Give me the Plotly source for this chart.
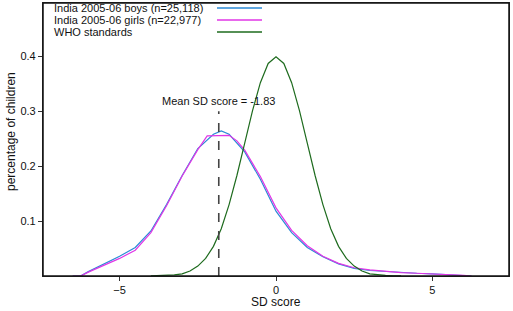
import plotly.graph_objects as go

# ---- data ----
boys_x = [-6.5, -6.25, -6.0, -5.5, -5.0, -4.5, -4.0, -3.5, -3.0, -2.5, -2.0, -1.75, -1.5, -1.0, -0.5,
          0.0, 0.5, 1.0, 1.5, 2.0, 2.5, 3.0, 3.5, 4.0, 4.5, 5.0, 5.5, 6.0, 6.25]
boys_y = [0.0, 0.0, 0.008, 0.022, 0.036, 0.052, 0.082, 0.130, 0.183, 0.232, 0.258, 0.264, 0.258, 0.226, 0.176,
          0.118, 0.079, 0.052, 0.035, 0.022, 0.014, 0.010, 0.008, 0.006, 0.005, 0.004, 0.002, 0.001, 0.0]

girls_x = [-6.5, -6.25, -6.0, -5.5, -5.0, -4.5, -4.0, -3.5, -3.0, -2.5, -2.2, -1.5, -1.25, -1.0, -0.5,
           0.0, 0.5, 1.0, 1.5, 2.0, 2.5, 3.0, 3.5, 4.0, 4.5, 5.0, 5.5, 6.0, 6.25]
girls_y = [0.0, 0.0, 0.007, 0.020, 0.032, 0.047, 0.079, 0.128, 0.182, 0.230, 0.255, 0.256, 0.246, 0.229, 0.181,
           0.124, 0.083, 0.055, 0.036, 0.023, 0.015, 0.011, 0.008, 0.006, 0.005, 0.004, 0.003, 0.001, 0.0]

who_x = [-4.0, -3.75, -3.5, -3.25, -3.0, -2.75, -2.5, -2.25, -2.0, -1.75, -1.5, -1.25, -1.0, -0.75, -0.5, -0.25,
         0.0, 0.25, 0.5, 0.75, 1.0, 1.25, 1.5, 1.75, 2.0, 2.25, 2.5, 2.75, 3.0, 3.25, 3.5, 3.75, 4.0]
who_y = [0.0001, 0.0004, 0.001, 0.002, 0.004, 0.009, 0.018, 0.032, 0.054, 0.086, 0.130, 0.183, 0.242, 0.301, 0.352, 0.387,
         0.399, 0.387, 0.352, 0.301, 0.242, 0.183, 0.130, 0.086, 0.054, 0.032, 0.018, 0.009, 0.004, 0.002, 0.001, 0.0004, 0.0001]

mean_sd = -1.83
mean_line_top = 0.30

series_names = ["India 2005-06 boys (n=25,118)", "India 2005-06 girls (n=22,977)", "WHO standards"]
series_colors = ["#2b8ad6", "#e036e6", "#1e6b1e"]

x_ticks = [-5, 0, 5]
y_ticks = [0.1, 0.2, 0.3, 0.4]

FONT = "Liberation Sans, Arial, sans-serif"

fig = go.Figure()
for xs, ys, name, col in zip([boys_x, girls_x, who_x], [boys_y, girls_y, who_y], series_names, series_colors):
    fig.add_trace(go.Scatter(x=xs, y=ys, mode="lines", name=name,
                             line=dict(color=col, width=1.2), showlegend=False))

fig.add_trace(go.Scatter(x=[mean_sd, mean_sd], y=[0, mean_line_top], mode="lines",
                         line=dict(color="#444444", width=1.6, dash="dash"), showlegend=False))

fig.add_annotation(x=mean_sd, y=0.319, text="Mean SD score = %.2f" % mean_sd, showarrow=False,
                   xanchor="center", yanchor="middle", font=dict(size=11, color="#111111", family=FONT))

# plot area geometry in pixels
W, H, L, T = 466, 273, 43, 3

# frame around the plot area
fig.add_shape(type="rect", xref="paper", yref="paper", x0=0, x1=1, y0=0, y1=1,
              line=dict(color="#111111", width=1.5), layer="above")

# legend drawn inside top-left: text then line sample on the right
row_py = [8, 20, 32]
for name, col, py in zip(series_names, series_colors, row_py):
    yp = (H + T - py) / H
    fig.add_annotation(xref="paper", yref="paper", x=(52 - L) / W, y=yp, text=name, showarrow=False,
                       xanchor="left", yanchor="middle", font=dict(size=11, color="#111111", family=FONT))
    fig.add_shape(type="line", xref="paper", yref="paper", x0=(217 - L) / W, x1=(262 - L) / W, y0=yp, y1=yp,
                  line=dict(color=col, width=1.3))

# axis titles
fig.add_annotation(xref="paper", yref="paper", x=(276 - L) / W, y=(H + T - 302) / H, text="SD score",
                   showarrow=False, xanchor="center", yanchor="middle", font=dict(size=12, family=FONT))
fig.add_annotation(xref="paper", yref="paper", x=(11 - L) / W, y=(H + T - 132) / H, text="percentage of children",
                   showarrow=False, textangle=-90, xanchor="center", yanchor="middle", font=dict(size=12, family=FONT))

fig.update_layout(
    width=513, height=311,
    margin=dict(l=L, r=513 - L - W, t=T, b=311 - T - H),
    paper_bgcolor="white", plot_bgcolor="white",
    font=dict(family=FONT, size=11, color="#111111"),
    xaxis=dict(range=[-7.45, 7.45], tickvals=x_ticks, ticks="outside", ticklen=4, tickcolor="#333333",
               showline=True, linecolor="#333333", linewidth=1.2, mirror=True, showgrid=False, zeroline=False,
               automargin=False),
    yaxis=dict(range=[0, 0.497], tickvals=y_ticks, ticks="outside", ticklen=4, tickcolor="#333333",
               showline=True, linecolor="#333333", linewidth=1.2, mirror=True, showgrid=False, zeroline=False,
               automargin=False),
)

fig.write_html("out.html", config={"displayModeBar": False},
               post_script="document.body.style.margin='0';document.body.style.overflow='hidden';")
